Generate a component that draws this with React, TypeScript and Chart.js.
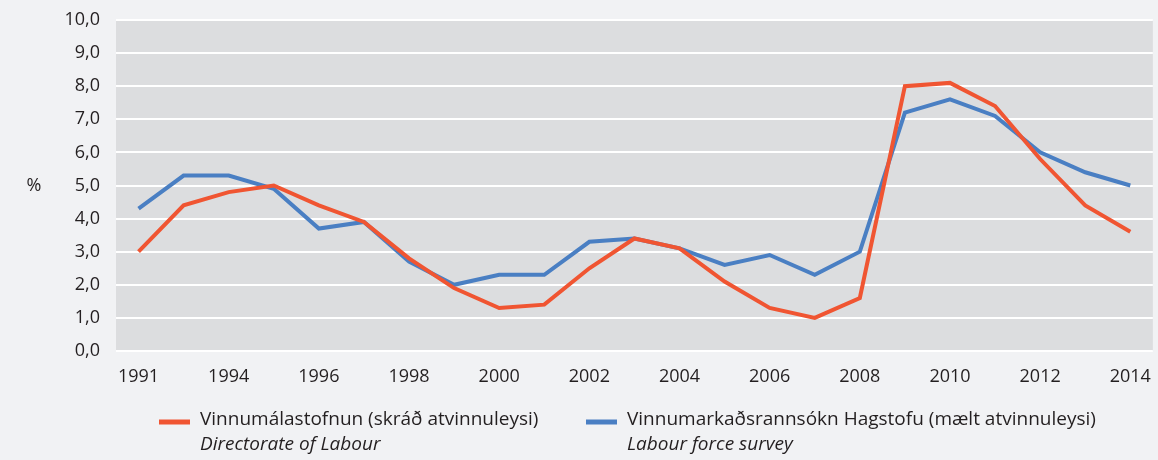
import React, { useEffect, useRef } from "react";
import { Chart, registerables } from "chart.js";

Chart.register(...registerables);

const years = ["1991", "1993", "1994", "1995", "1996", "1997", "1998", "1999", "2000", "2001", "2002", "2003", "2004", "2005", "2006", "2007", "2008", "2009", "2010", "2011", "2012", "2013", "2014"];
const directorateOfLabour = [3.0, 4.4, 4.8, 5.0, 4.4, 3.9, 2.8, 1.9, 1.3, 1.4, 2.5, 3.4, 3.1, 2.1, 1.3, 1.0, 1.6, 8.0, 8.1, 7.4, 5.8, 4.4, 3.6];
const labourForceSurvey = [4.3, 5.3, 5.3, 4.9, 3.7, 3.9, 2.7, 2.0, 2.3, 2.3, 3.3, 3.4, 3.1, 2.6, 2.9, 2.3, 3.0, 7.2, 7.6, 7.1, 6.0, 5.4, 5.0];
const seriesNames = ["Vinnumálastofnun (skráð atvinnuleysi)", "Vinnumarkaðsrannsókn Hagstofu (mælt atvinnuleysi)"];
const seriesNamesEn = ["Directorate of Labour", "Labour force survey"];
const yAxisUnit = "%";

const RED = "#f05532";
const BLUE = "#4a7fc3";
const TEXT = "#231f20";
const FONT = "'Open Sans', sans-serif";

const decorPlugin = {
  id: "decor",
  beforeDraw(chart: any) {
    const { ctx, chartArea, width, height } = chart;
    ctx.save();
    ctx.fillStyle = "#f1f2f4";
    ctx.fillRect(0, 0, width, height);
    ctx.fillStyle = "#dcdddf";
    ctx.fillRect(chartArea.left, chartArea.top, chartArea.right - chartArea.left, chartArea.bottom - chartArea.top);
    ctx.restore();
  },
  afterDraw(chart: any) {
    const { ctx, chartArea } = chart;
    ctx.save();
    ctx.fillStyle = TEXT;
    ctx.font = `18px ${FONT}`;
    ctx.textAlign = "center";
    ctx.textBaseline = "middle";
    ctx.fillText(yAxisUnit, 34, (chartArea.top + chartArea.bottom) / 2);

    const items = [
      { x: 159, color: chart.data.datasets[0].borderColor, l1: seriesNames[0], l2: seriesNamesEn[0] },
      { x: 586, color: chart.data.datasets[1].borderColor, l1: seriesNames[1], l2: seriesNamesEn[1] },
    ];
    items.forEach((it) => {
      ctx.strokeStyle = it.color;
      ctx.lineWidth = 5;
      ctx.beginPath();
      ctx.moveTo(it.x, 422);
      ctx.lineTo(it.x + 31, 422);
      ctx.stroke();
      ctx.textAlign = "left";
      ctx.fillStyle = TEXT;
      ctx.font = `19px ${FONT}`;
      ctx.fillText(it.l1, it.x + 41, 420);
      ctx.font = `italic 19px ${FONT}`;
      ctx.fillText(it.l2, it.x + 41, 445);
    });
    ctx.restore();
  },
};

export default function App() {
  const ref = useRef<HTMLCanvasElement>(null);
  useEffect(() => {
    document.body.style.margin = "0";
    const chart = new Chart(ref.current!, {
      type: "line",
      data: {
        labels: years,
        datasets: [
          { label: seriesNames[0], data: directorateOfLabour, borderColor: RED, borderWidth: 4, pointRadius: 0, tension: 0, fill: false },
          { label: seriesNames[1], data: labourForceSurvey, borderColor: BLUE, borderWidth: 4, pointRadius: 0, tension: 0, fill: false },
        ],
      },
      options: {
        responsive: false,
        animation: false,
        layout: { padding: { left: 0, right: 5, top: 20, bottom: 0 } },
        plugins: { legend: { display: false }, tooltip: { enabled: false } },
        scales: {
          x: {
            offset: true,
            grid: { display: false },
            border: { display: false },
            ticks: {
              autoSkip: false,
              maxRotation: 0,
              padding: 7,
              color: TEXT,
              font: { family: "'Open Sans', sans-serif", size: 18 },
              callback: (_v: any, i: number) => (i % 2 === 0 ? years[i] : ""),
            },
            afterFit: (s: any) => { s.height = 109; },
          },
          y: {
            min: 0,
            max: 10,
            grid: { color: "#ffffff", lineWidth: 2, drawTicks: true, tickLength: 16, tickColor: "rgba(0,0,0,0)" },
            border: { display: false },
            ticks: {
              stepSize: 1,
              padding: 0,
              color: TEXT,
              font: { family: "'Open Sans', sans-serif", size: 18 },
              callback: (v: any) => Number(v).toFixed(1).replace(".", ","),
            },
            afterFit: (s: any) => { s.width = 116; },
          },
        },
      },
      plugins: [decorPlugin],
    });
    return () => chart.destroy();
  }, []);
  return <canvas ref={ref} width={1158} height={460} style={{ display: "block" }} />;
}
